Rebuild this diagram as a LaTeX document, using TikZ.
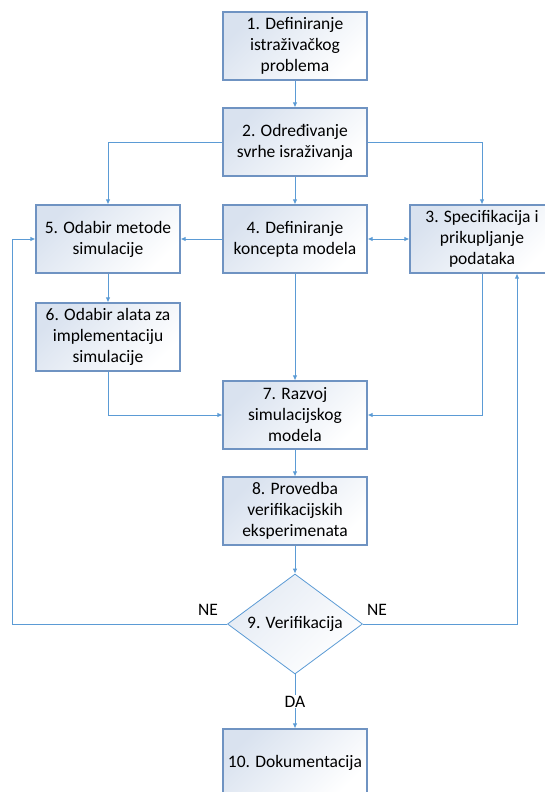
\documentclass[tikz,border=0pt]{standalone}
\usepackage{fontspec}
\setmainfont{Carlito}
\usetikzlibrary{arrows.meta,positioning,shapes.geometric}
\definecolor{frame}{HTML}{6F93C2}
\definecolor{wire}{HTML}{5B9BD5}
\definecolor{tint}{HTML}{D9E2EF}
\tikzset{stepbox/.style={draw=frame,line width=1.1pt,top color=tint,bottom color=white,shading angle=45,minimum width=144pt,minimum height=68pt,inner sep=2pt,align=center,font=\fontsize{17.5}{21}\selectfont},decide/.style={diamond,draw=wire,line width=.8pt,top color=tint!70,bottom color=white,shading angle=45,minimum width=135pt,minimum height=100pt,aspect=1.35,inner sep=0pt,font=\fontsize{17.5}{21}\selectfont},flow/.style={draw=wire,line width=.9pt,->},lbl/.style={font=\fontsize{17.5}{21}\selectfont,fill=white,inner sep=1pt}}

\begin{document}
\begin{tikzpicture}[x=1pt,y=-1pt,>={Latex[length=5pt,width=4.5pt]}]
\useasboundingbox (0,0) rectangle (545,792);
\node[stepbox] (problem) at (295,46) {1. Definiranje\\istraživačkog\\problema};
\node[stepbox] (svrha) at (295,142) {2. Određivanje\\svrhe israživanja};
\node[stepbox] (podaci) at (482,239) {3. Specifikacija i\\prikupljanje\\podataka};
\node[stepbox] (koncept) at (295,239) {4. Definiranje\\koncepta modela};
\node[stepbox] (metoda) at (108,239) {5. Odabir metode\\simulacije};
\node[stepbox] (alat) at (108,337) {6. Odabir alata za\\implementaciju\\simulacije};
\node[stepbox] (razvoj) at (295,415) {7. Razvoj\\simulacijskog\\modela};
\node[stepbox] (provedba) at (295,511) {8. Provedba\\verifikacijskih\\eksperimenata};
\node[decide] (verif) at (295,624) {9. Verifikacija};
\node[stepbox] (dokum) at (295,763) {10. Dokumentacija};
\coordinate (lijevo) at (12,624);
\coordinate (desno) at (517,624);
\foreach \u/\v in {problem/svrha,svrha/koncept,koncept/metoda,metoda/alat,koncept/razvoj,razvoj/provedba,provedba/verif}{\draw[flow] (\u)--(\v);}
\draw[flow] (svrha.west) -| (metoda);
\draw[flow] (svrha.east) -| (podaci);
\draw[flow,<->] (koncept)--(podaci);
\draw[flow] (alat) |- (razvoj);
\draw[flow] (podaci) |- (razvoj);
\draw[flow] (verif.west) -- (lijevo) |- (metoda.west);
\draw[flow] (verif.east) -- (desno) -- (desno |- podaci.south);
\draw[flow] (verif) -- node[lbl] (da) {DA} (dokum);
\node[lbl,fill=none] (ne1) at (208,610) {NE};
\node[lbl,fill=none] (ne2) at (377,610) {NE};
\end{tikzpicture}
\end{document}
